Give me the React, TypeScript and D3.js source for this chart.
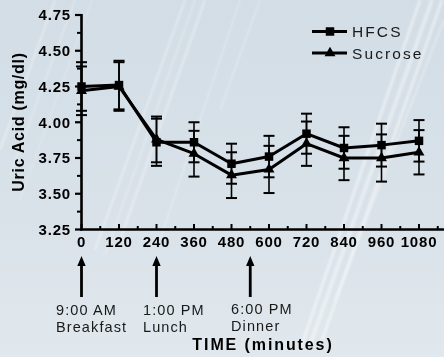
import React from "react";
import * as d3 from "d3";

// Sampling times (minutes after breakfast) and mean serum uric acid per group
const times = [0, 120, 240, 360, 480, 600, 720, 840, 960, 1080];
const hfcsMean = [4.25, 4.26, 3.86, 3.86, 3.71, 3.76, 3.92, 3.82, 3.84, 3.87];
const hfcsErr = [0.17, 0.17, 0.165, 0.14, 0.14, 0.145, 0.14, 0.145, 0.15, 0.145];
const sucroseMean = [4.22, 4.25, 3.88, 3.78, 3.63, 3.67, 3.85, 3.75, 3.75, 3.79];
const sucroseErr = [0.17, 0.17, 0.16, 0.16, 0.16, 0.165, 0.155, 0.155, 0.165, 0.155];

const yTicks = [3.25, 3.5, 3.75, 4.0, 4.25, 4.5, 4.75];
const yMinorTicks = [3.375, 3.625, 3.875, 4.125, 4.375, 4.625];
const xTicks = [0, 120, 240, 360, 480, 600, 720, 840, 960, 1080];
const xMinorTicks = [60, 180, 300, 420, 540, 660, 780, 900, 1020, 1140];

const meals = [
  { time: 0, clock: "9:00 AM", meal: "Breakfast", tx: 56 },
  { time: 240, clock: "1:00 PM", meal: "Lunch", tx: 143 },
  { time: 540, clock: "6:00 PM", meal: "Dinner", tx: 231 },
];

const W = 444;
const H = 357;
const FONT = "'Liberation Sans', Arial, Helvetica, sans-serif";

// Soft diagonal highlights across the slide background
const streaks: [number, number, number, number, number, number][] = [
  // x1, y1, x2, y2, width, opacity
  [0, 150, 55, 0, 2, 0.4],
  [10, 175, 75, 0, 1.5, 0.35],
  [20, 200, 92, 0, 1.2, 0.3],
  [95, 250, 185, 0, 2, 0.4],
  [105, 255, 195, 0, 1.5, 0.35],
  [120, 240, 205, 0, 2.5, 0.35],
  [160, 240, 240, 0, 1.5, 0.3],
  [220, 110, 260, 0, 1.5, 0.35],
  [300, 350, 420, 0, 3, 0.45],
  [310, 345, 432, 0, 4, 0.4],
  [322, 340, 442, 0, 3, 0.45],
  [335, 300, 444, 20, 2, 0.35],
];

export default function App() {
  const x = d3.scaleLinear().domain([0, 1080]).range([81.5, 419]);
  const y = d3.scaleLinear().domain([3.25, 4.75]).range([229.5, 15]);
  const axisY = y(3.25);

  const line = d3
    .line<number>()
    .x((_, i) => x(times[i]))
    .y((d) => y(d));

  const square = d3.symbol().type(d3.symbolSquare).size(72)();
  const triangle = d3.symbol().type(d3.symbolTriangle).size(52)();

  const series = [
    { name: "HFCS", mean: hfcsMean, err: hfcsErr, marker: square },
    { name: "Sucrose", mean: sucroseMean, err: sucroseErr, marker: triangle },
  ];

  const arrowTop = 256;
  const arrowBottom = 297;

  return (
    <svg
      width={W}
      height={H}
      style={{ position: "absolute", left: 0, top: 0 }}
      fontFamily={FONT}
    >
      <defs>
        <linearGradient id="bg" x1="0" y1="0" x2="0" y2="1">
          <stop offset="0" stopColor="#d2dde6" />
          <stop offset="0.6" stopColor="#d9e2e9" />
          <stop offset="1" stopColor="#e1e8ed" />
        </linearGradient>
        <filter id="soft" x="-20%" y="-20%" width="140%" height="140%">
          <feGaussianBlur stdDeviation="1.2" />
        </filter>
      </defs>
      <rect x={0} y={0} width={W} height={H} fill="url(#bg)" />
      <g filter="url(#soft)">
        {streaks.map(([x1, y1, x2, y2, w, o], i) => (
          <line
            key={i}
            x1={x1}
            y1={y1}
            x2={x2}
            y2={y2}
            stroke="#ffffff"
            strokeWidth={w}
            opacity={o}
          />
        ))}
      </g>

      {/* Y axis */}
      <line x1={81.5} y1={y(4.75) - 1} x2={81.5} y2={axisY + 1} stroke="#000" strokeWidth={2.6} />
      {yTicks.map((t) => (
        <g key={t}>
          <line x1={75} x2={81.5} y1={y(t)} y2={y(t)} stroke="#000" strokeWidth={2.2} />
          <text
            x={71}
            y={y(t)}
            dy="0.36em"
            textAnchor="end"
            fontSize={15}
            fontWeight="bold"
            letterSpacing={0.8}
          >
            {t.toFixed(2)}
          </text>
        </g>
      ))}
      {yMinorTicks.map((t) => (
        <line key={t} x1={77} x2={81.5} y1={y(t)} y2={y(t)} stroke="#000" strokeWidth={2} />
      ))}
      <text
        transform={`translate(24,122) rotate(-90)`}
        textAnchor="middle"
        fontSize={16}
        fontWeight="bold"
        letterSpacing={0.7}
      >
        Uric Acid (mg/dl)
      </text>

      {/* X axis */}
      <line x1={80.2} y1={axisY} x2={W} y2={axisY} stroke="#000" strokeWidth={2.6} />
      {xTicks.map((t) => (
        <g key={t}>
          <line x1={x(t)} x2={x(t)} y1={axisY} y2={axisY - 5.5} stroke="#000" strokeWidth={2} />
          <text
            x={x(t)}
            y={247}
            textAnchor="middle"
            fontSize={15}
            fontWeight="bold"
            letterSpacing={0.8}
          >
            {t}
          </text>
        </g>
      ))}
      {xMinorTicks.map((t) => (
        <line key={t} x1={x(t)} x2={x(t)} y1={axisY} y2={axisY - 3.5} stroke="#000" strokeWidth={2} />
      ))}
      <text
        x={263}
        y={350}
        textAnchor="middle"
        fontSize={16}
        fontWeight="bold"
        letterSpacing={1.9}
      >
        TIME (minutes)
      </text>

      {/* Meal markers */}
      {meals.map((m) => {
        const cx = x(m.time);
        return (
          <g key={m.meal}>
            <line x1={cx} x2={cx} y1={arrowTop + 8} y2={arrowBottom} stroke="#000" strokeWidth={2.8} />
            <path
              d={`M${cx},${arrowTop} L${cx - 4.2},${arrowTop + 10} L${cx + 4.2},${arrowTop + 10} Z`}
              fill="#000"
            />
          </g>
        );
      })}
      <g fontSize={14.5} fill="#1a1a1a" letterSpacing={1.1}>
        {meals.map((m, i) => (
          <g key={m.meal + "-label"}>
            <text x={m.tx} y={i === 2 ? 313.5 : 315}>{m.clock}</text>
            <text x={m.tx} y={i === 2 ? 331 : 332}>{m.meal}</text>
          </g>
        ))}
      </g>

      {/* Error bars */}
      {series.map((s) => (
        <g key={s.name + "-err"} stroke="#000">
          {s.mean.map((m, i) => {
            const cx = x(times[i]);
            const top = y(m + s.err[i]);
            const bot = y(m - s.err[i]);
            return (
              <g key={i}>
                <line x1={cx} x2={cx} y1={top} y2={bot} strokeWidth={1.6} />
                <line x1={cx - 5.5} x2={cx + 5.5} y1={top} y2={top} strokeWidth={2} />
                <line x1={cx - 5.5} x2={cx + 5.5} y1={bot} y2={bot} strokeWidth={2} />
              </g>
            );
          })}
        </g>
      ))}

      {/* Series lines and markers */}
      {series.map((s) => (
        <g key={s.name}>
          <path d={line(s.mean) ?? ""} fill="none" stroke="#000" strokeWidth={3} strokeLinejoin="round" />
          {s.mean.map((m, i) => (
            <path key={i} d={s.marker ?? ""} transform={`translate(${x(times[i])},${y(m)})`} fill="#000" />
          ))}
        </g>
      ))}

      {/* Legend */}
      {series.map((s, i) => {
        const ly = 31.5 + i * 21.5;
        return (
          <g key={s.name + "-legend"}>
            <line x1={312} x2={347} y1={ly} y2={ly} stroke="#000" strokeWidth={3} />
            <path d={s.marker ?? ""} transform={`translate(330,${ly})`} fill="#000" />
            <text x={352} y={ly} dy="0.36em" fontSize={15.5} letterSpacing={2.1} fill="#1a1a1a">
              {s.name}
            </text>
          </g>
        );
      })}
    </svg>
  );
}
